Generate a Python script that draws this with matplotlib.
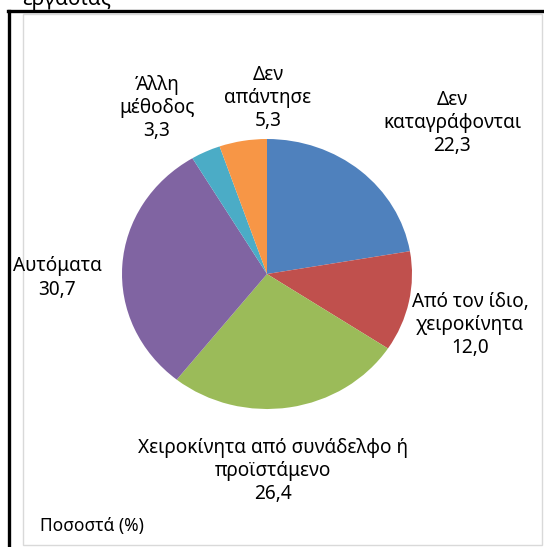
import matplotlib
matplotlib.use("Agg")
import matplotlib.pyplot as plt
from matplotlib.lines import Line2D
from matplotlib.patches import Rectangle

plt.rcParams['font.family'] = ['Noto Sans', 'DejaVu Sans']

labels = ['Δεν\nκαταγράφονται', 'Από τον ίδιο,\nχειροκίνητα', 'Χειροκίνητα από συνάδελφο ή\nπροϊστάμενο',
          'Αυτόματα', 'Άλλη\nμέθοδος', 'Δεν\nαπάντησε']
values = [22.3, 12.0, 26.4, 30.7, 3.3, 5.3]
colors = ['#4F81BD', '#C0504D', '#9BBB59', '#8064A2', '#4BACC6', '#F79646']

# label centres in pixels (from top-left)
label_pos = [(452, 123), (470, 325), (273, 471), (57, 278), (157, 108), (268, 98)]

W, H = 544, 547
fig = plt.figure(figsize=(W / 100, H / 100), dpi=100)

# frame
fig.add_artist(Rectangle((23 / W, 2 / H), (542 - 23) / W, (545 - 14) / H, transform=fig.transFigure,
                         facecolor='none', edgecolor='#D9D9D9', linewidth=1, zorder=-1))
fig.add_artist(Line2D([8 / W, 1], [1 - 11 / H, 1 - 11 / H], transform=fig.transFigure, color='black', linewidth=2.4))
fig.add_artist(Line2D([9 / W, 9 / W], [0, 1 - 11 / H], transform=fig.transFigure, color='black', linewidth=2.4))

fig.text(22 / W, 1 - 5 / H, 'εργασίας', fontsize=15, va='baseline', ha='left')

cx, cy, rx, ry = 267, 274, 145, 135
ax = fig.add_axes([(cx - rx) / W, 1 - (cy + ry) / H, 2 * rx / W, 2 * ry / H])
ax.pie(values, colors=colors, startangle=90, counterclock=False, wedgeprops=dict(linewidth=0))
ax.set_aspect('auto')
ax.set_xlim(-1, 1)
ax.set_ylim(-1, 1)
ax.axis('off')

for lab, v, (px, py) in zip(labels, values, label_pos):
    txt = lab + '\n' + f'{v:.1f}'.replace('.', ',')
    fig.text(px / W, 1 - py / H, txt, ha='center', va='center', fontsize=13.7, linespacing=1.2,
             multialignment='center')

fig.text(40 / W, 1 - 526 / H, 'Ποσοστά (%)', fontsize=12.5, ha='left', va='center')

fig.savefig('out.png', dpi=100)
